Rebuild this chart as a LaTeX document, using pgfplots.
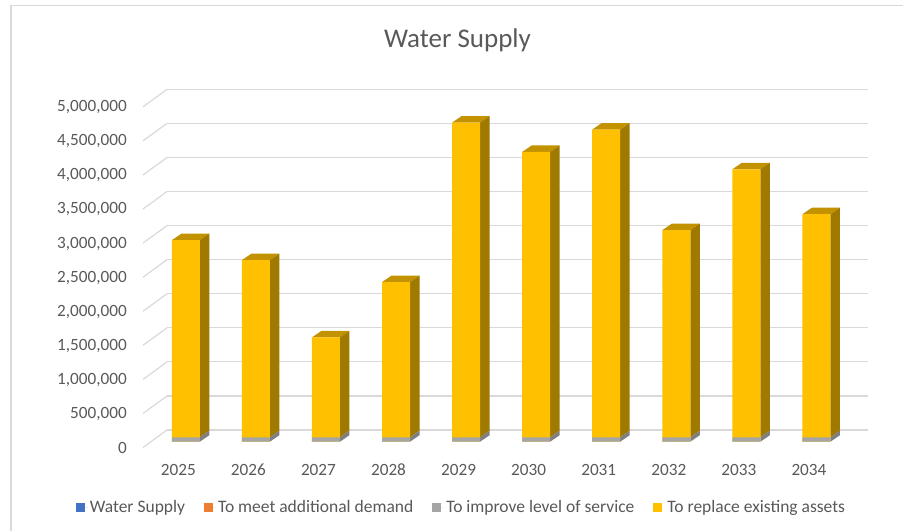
\documentclass[border=0pt]{standalone}
\usepackage{pgfplots}
\pgfplotsset{compat=1.18}
\usepackage{pgfplotstable}
\usepackage{fontspec}
\setmainfont{Carlito}

\definecolor{txt}{HTML}{595959}
\definecolor{gridc}{HTML}{D9D9D9}
\definecolor{framec}{HTML}{D9D9D9}
\definecolor{wsblue}{HTML}{4472C4}
\definecolor{demorange}{HTML}{ED7D31}
\definecolor{svcgrey}{HTML}{A5A5A5}
\definecolor{svcgreyside}{HTML}{7F7F7F}
\definecolor{repgold}{HTML}{FFC000}
\definecolor{repgoldtop}{HTML}{C29200}
\definecolor{repgoldside}{HTML}{A07A00}

% Capital works per year (dollars)
\pgfplotstableread{
idx year supply demand service replace
0 2025 0 0 65000 2892000
1 2026 0 0 65000 2599000
2 2027 0 0 65000 1466000
3 2028 0 0 65000 2277000
4 2029 0 0 65000 4618000
5 2030 0 0 65000 4187000
6 2031 0 0 65000 4516000
7 2032 0 0 65000 3039000
8 2033 0 0 65000 3933000
9 2034 0 0 65000 3274000
}\capex

% depth of the 3-D columns, in axis units
\def\hw{0.1998}   % half the column width
\def\dxu{0.1356}  % horizontal depth
\def\dyu{95400}   % vertical depth

\begin{document}
\begin{tikzpicture}
\draw[framec, line width=1.5pt] (11pt,0pt) -- (11pt,525.7pt) -- (903pt,525.7pt);
\node[text=txt, font=\fontsize{27}{32}\selectfont] at (457.5pt,491pt) {Water Supply};
\begin{axis}[
  at={(115.73pt,62.04pt)}, anchor=south west,
  scale only axis, width=770.77pt, height=395.21pt,
  xmin=-1, xmax=10, ymin=-400000, ymax=5400000,
  clip=false,
  axis line style={draw=none}, tick style={draw=none},
  xtick={0,1,2,3,4,5,6,7,8,9},
  xticklabels={2025,2026,2027,2028,2029,2030,2031,2032,2033,2034},
  ytick={0,500000,1000000,1500000,2000000,2500000,3000000,3500000,4000000,4500000,5000000},
  scaled y ticks=false,
  /pgf/number format/.cd, fixed, precision=0, 1000 sep={,}, assume math mode=true,
  /pgfplots/.cd,
  tick label style={font=\fontsize{17.2}{20}\selectfont, text=txt},
  yticklabel style={anchor=east, inner sep=0pt, xshift=11.3pt, yshift=-6.3pt},
  xticklabel style={anchor=center, inner sep=0pt, xshift=-7.5pt, yshift=-1pt},
  legend columns=4,
  legend style={at={(0.4486,-0.0963)}, anchor=center, draw=none,
    font=\fontsize{17.5}{20}\selectfont, text=txt,
    /tikz/every even column/.append style={column sep=17pt}},
  legend image code/.code={\fill[#1] (0pt,-4.5pt) rectangle (9pt,4.5pt);
    \path (0pt,0pt) -- (12pt,0pt);},
]
% back wall grid and its floor edges
\pgfplotsinvokeforeach{0,500000,1000000,1500000,2000000,2500000,3000000,3500000,4000000,4500000,5000000}{
  \draw[gridc, line width=1.2pt] ([yshift=11.7pt]axis cs:-0.268,#1) -- ++(701pt,0pt);
  \draw[gridc, line width=1.2pt] ([yshift=11.7pt]axis cs:-0.268,#1) -- ++(-24pt,-17.5pt);
}

% top and side faces of every column
\pgfplotsinvokeforeach{0,1,2,3,4,5,6,7,8,9}{%
  \pgfplotstablegetelem{#1}{service}\of\capex \let\sv\pgfplotsretval
  \pgfplotstablegetelem{#1}{replace}\of\capex \let\rp\pgfplotsretval
  \begingroup
    \pgfkeys{/pgf/fpu=true,/pgf/fpu/output format=fixed}%
    \pgfmathparse{\sv+\rp}\xdef\tot{\pgfmathresult}%
    \pgfmathparse{\sv+\rp+\dyu}\xdef\totd{\pgfmathresult}%
    \pgfmathparse{\sv+\dyu}\xdef\svd{\pgfmathresult}%
  \endgroup
  \pgfmathsetmacro\xl{#1-\hw}%
  \pgfmathsetmacro\xr{#1+\hw}%
  \pgfmathsetmacro\xld{#1-\hw+\dxu}%
  \pgfmathsetmacro\xrd{#1+\hw+\dxu}%
  \edef\faces{%
    \noexpand\addplot[forget plot, draw=none, fill=repgoldtop, mark=none]
      coordinates {(\xl,\tot) (\xld,\totd) (\xrd,\totd) (\xr,\tot)};
    \noexpand\addplot[forget plot, draw=none, fill=repgoldside, mark=none]
      coordinates {(\xr,\sv) (\xrd,\svd) (\xrd,\totd) (\xr,\tot)};
    \noexpand\addplot[forget plot, draw=none, fill=svcgreyside, mark=none]
      coordinates {(\xr,0) (\xrd,\dyu) (\xrd,\svd) (\xr,\sv)};
  }\faces
}

% front faces
\addplot[ybar, bar width=28pt, bar shift=0pt, fill=wsblue, draw=none]
  table[x=idx, y=supply]{\capex};
\addlegendentry{Water Supply}
\addplot[ybar, bar width=28pt, bar shift=0pt, fill=demorange, draw=none]
  table[x=idx, y=demand]{\capex};
\addlegendentry{To meet additional demand}
\addplot[ybar, bar width=28pt, bar shift=0pt, fill=repgold, draw=none, forget plot]
  table[x=idx, y expr=\thisrow{service}+\thisrow{replace}]{\capex};
\addplot[ybar, bar width=28pt, bar shift=0pt, fill=svcgrey, draw=none]
  table[x=idx, y=service]{\capex};
\addlegendentry{To improve level of service}
\addlegendimage{fill=repgold, draw=none}
\addlegendentry{To replace existing assets}
\end{axis}
\pgfresetboundingbox
\useasboundingbox (0pt,0pt) rectangle (903pt,531pt);
\end{tikzpicture}
\end{document}
